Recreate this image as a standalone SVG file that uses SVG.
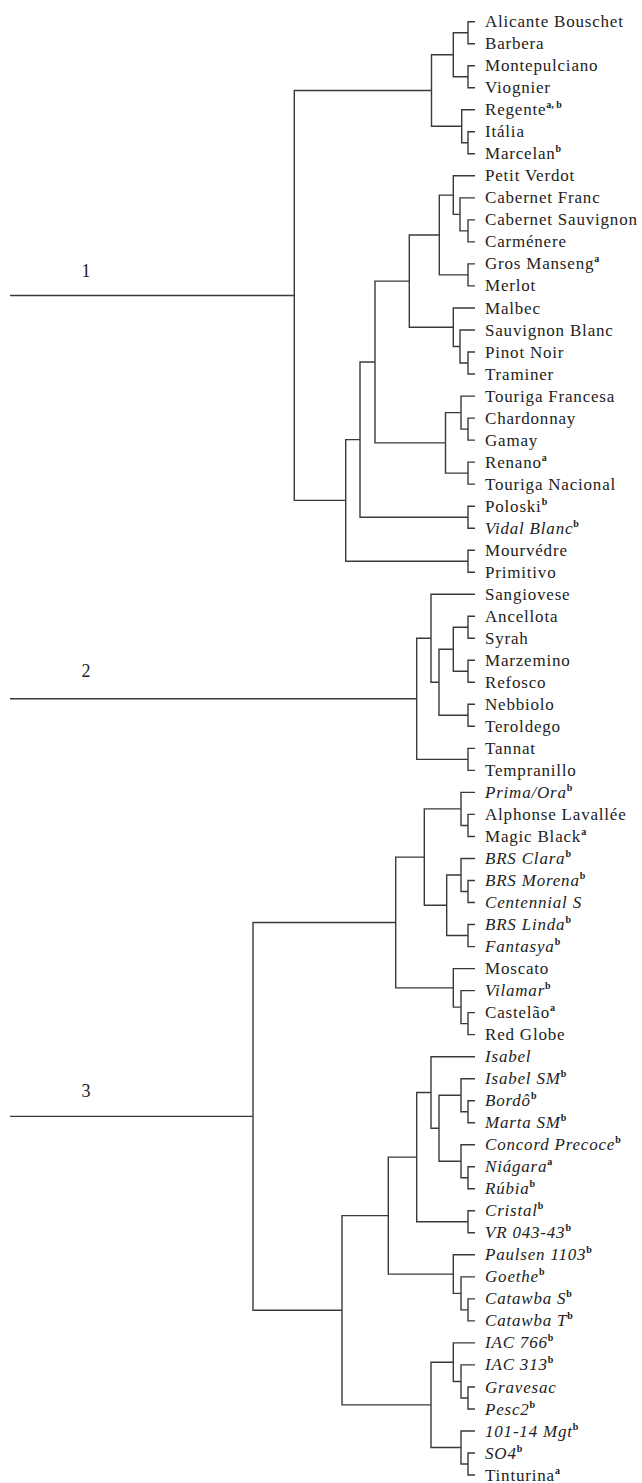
<svg xmlns="http://www.w3.org/2000/svg" width="642" height="1483" viewBox="0 0 642 1483">
<style>
.ln{fill:none;stroke:#3a3a3a;stroke-width:1.4}
.t{font-family:"Liberation Serif","Times New Roman",serif;font-size:17px;letter-spacing:0.8px;fill:#222}
.i{font-style:italic}
.s{font-size:10px;font-style:normal;font-weight:bold;letter-spacing:0}
.n{font-family:"Liberation Serif","Times New Roman",serif;font-size:18px;fill:#222;text-anchor:middle}
</style>
<rect width="642" height="1483" fill="#fff"/>
<g id="connectors" class="ln">
<path d="M475,21.7 H468 V43.7 H475"/>
<path d="M475,65.7 H468 V87.8 H475"/>
<path d="M468,32.7 H453.3 V76.75 H468"/>
<path d="M475,131.8 H468 V153.8 H475"/>
<path d="M475,109.8 H461.7 V142.8 H468"/>
<path d="M453.3,54.7 H431.5 V126.3 H461.7"/>
<path d="M475,219.9 H468 V241.9 H475"/>
<path d="M475,197.9 H460 V230.9 H468"/>
<path d="M475,175.8 H453.3 V214.4 H460"/>
<path d="M475,263.9 H468 V285.9 H475"/>
<path d="M453.3,195.1 H439.3 V274.9 H468"/>
<path d="M475,352 H468 V374 H475"/>
<path d="M475,330 H460 V363 H468"/>
<path d="M475,308 H453.3 V346.5 H460"/>
<path d="M439.3,235 H409.3 V327.25 H453.3"/>
<path d="M475,418.1 H468 V440.1 H475"/>
<path d="M475,396.1 H461 V429.1 H468"/>
<path d="M475,462.1 H468 V484.1 H475"/>
<path d="M461,412.6 H445.5 V473.1 H468"/>
<path d="M409.3,281.1 H375 V442.85 H445.5"/>
<path d="M475,506.2 H468 V528.2 H475"/>
<path d="M375,362 H360 V517.2 H468"/>
<path d="M475,550.2 H468 V572.2 H475"/>
<path d="M360,439.6 H345.7 V561.2 H468"/>
<path d="M431.5,90.5 H294.3 V500.4 H345.7"/>
<path d="M10,295.45 H294.3"/>
<path d="M475,616.2 H468 V638.3 H475"/>
<path d="M475,660.3 H468 V682.3 H475"/>
<path d="M468,627.25 H453.3 V671.3 H468"/>
<path d="M475,704.3 H468 V726.3 H475"/>
<path d="M453.3,649.3 H439 V715.3 H468"/>
<path d="M475,594.2 H431 V682.3 H439"/>
<path d="M475,748.4 H468 V770.4 H475"/>
<path d="M431,638.25 H416.7 V759.4 H468"/>
<path d="M10,698.8 H416.7"/>
<path d="M475,814.4 H468 V836.5 H475"/>
<path d="M475,792.4 H461 V825.45 H468"/>
<path d="M475,880.5 H468 V902.5 H475"/>
<path d="M475,858.5 H461 V891.5 H468"/>
<path d="M475,924.5 H468 V946.6 H475"/>
<path d="M461,875 H446.7 V935.55 H468"/>
<path d="M461,808.9 H424.3 V905.3 H446.7"/>
<path d="M475,1012.6 H468 V1034.6 H475"/>
<path d="M475,990.6 H461 V1023.6 H468"/>
<path d="M475,968.6 H453.3 V1007.1 H461"/>
<path d="M424.3,857.1 H395.7 V987.85 H453.3"/>
<path d="M475,1100.7 H468 V1122.7 H475"/>
<path d="M475,1078.7 H461 V1111.7 H468"/>
<path d="M475,1166.8 H468 V1188.8 H475"/>
<path d="M475,1144.7 H461 V1177.8 H468"/>
<path d="M461,1095.2 H439 V1161.25 H461"/>
<path d="M475,1056.7 H431 V1128.2 H439"/>
<path d="M475,1210.8 H468 V1232.8 H475"/>
<path d="M431,1092.45 H416.7 V1221.8 H468"/>
<path d="M475,1298.9 H468 V1320.9 H475"/>
<path d="M475,1276.9 H461 V1309.9 H468"/>
<path d="M475,1254.8 H453.3 V1293.4 H461"/>
<path d="M416.7,1157.1 H388.3 V1274.1 H453.3"/>
<path d="M475,1387 H468 V1409 H475"/>
<path d="M475,1364.9 H461 V1398 H468"/>
<path d="M475,1342.9 H453.3 V1381.45 H461"/>
<path d="M475,1453 H468 V1475 H475"/>
<path d="M475,1431 H461 V1464 H468"/>
<path d="M453.3,1362.2 H431 V1447.5 H461"/>
<path d="M388.3,1215.6 H342 V1404.85 H431"/>
<path d="M395.7,922.5 H253 V1310.2 H342"/>
<path d="M10,1116.35 H253"/>
</g>
<g id="cluster-labels">
<text class="n" x="86" y="277">1</text>
<text class="n" x="86" y="677">2</text>
<text class="n" x="86" y="1097">3</text>
</g>
<g id="leaf-01"><text class="t" x="485" y="27.2">Alicante Bouschet</text></g>
<g id="leaf-02"><text class="t" x="485" y="49.2">Barbera</text></g>
<g id="leaf-03"><text class="t" x="485" y="71.2">Montepulciano</text></g>
<g id="leaf-04"><text class="t" x="485" y="93.3">Viognier</text></g>
<g id="leaf-05"><text class="t" x="485" y="115.3">Regente<tspan class="s" dy="-7">a, b</tspan></text></g>
<g id="leaf-06"><text class="t" x="485" y="137.3">Itália</text></g>
<g id="leaf-07"><text class="t" x="485" y="159.3">Marcelan<tspan class="s" dy="-7">b</tspan></text></g>
<g id="leaf-08"><text class="t" x="485" y="181.3">Petit Verdot</text></g>
<g id="leaf-09"><text class="t" x="485" y="203.4">Cabernet Franc</text></g>
<g id="leaf-10"><text class="t" x="485" y="225.4">Cabernet Sauvignon</text></g>
<g id="leaf-11"><text class="t" x="485" y="247.4">Carménere</text></g>
<g id="leaf-12"><text class="t" x="485" y="269.4">Gros Manseng<tspan class="s" dy="-7">a</tspan></text></g>
<g id="leaf-13"><text class="t" x="485" y="291.4">Merlot</text></g>
<g id="leaf-14"><text class="t" x="485" y="313.5">Malbec</text></g>
<g id="leaf-15"><text class="t" x="485" y="335.5">Sauvignon Blanc</text></g>
<g id="leaf-16"><text class="t" x="485" y="357.5">Pinot Noir</text></g>
<g id="leaf-17"><text class="t" x="485" y="379.5">Traminer</text></g>
<g id="leaf-18"><text class="t" x="485" y="401.6">Touriga Francesa</text></g>
<g id="leaf-19"><text class="t" x="485" y="423.6">Chardonnay</text></g>
<g id="leaf-20"><text class="t" x="485" y="445.6">Gamay</text></g>
<g id="leaf-21"><text class="t" x="485" y="467.6">Renano<tspan class="s" dy="-7">a</tspan></text></g>
<g id="leaf-22"><text class="t" x="485" y="489.6">Touriga Nacional</text></g>
<g id="leaf-23"><text class="t" x="485" y="511.7">Poloski<tspan class="s" dy="-7">b</tspan></text></g>
<g id="leaf-24"><text class="t i" x="485" y="533.7">Vidal Blanc<tspan class="s" dy="-7">b</tspan></text></g>
<g id="leaf-25"><text class="t" x="485" y="555.7">Mourvédre</text></g>
<g id="leaf-26"><text class="t" x="485" y="577.7">Primitivo</text></g>
<g id="leaf-27"><text class="t" x="485" y="599.7">Sangiovese</text></g>
<g id="leaf-28"><text class="t" x="485" y="621.7">Ancellota</text></g>
<g id="leaf-29"><text class="t" x="485" y="643.8">Syrah</text></g>
<g id="leaf-30"><text class="t" x="485" y="665.8">Marzemino</text></g>
<g id="leaf-31"><text class="t" x="485" y="687.8">Refosco</text></g>
<g id="leaf-32"><text class="t" x="485" y="709.8">Nebbiolo</text></g>
<g id="leaf-33"><text class="t" x="485" y="731.8">Teroldego</text></g>
<g id="leaf-34"><text class="t" x="485" y="753.9">Tannat</text></g>
<g id="leaf-35"><text class="t" x="485" y="775.9">Tempranillo</text></g>
<g id="leaf-36"><text class="t i" x="485" y="797.9">Prima/Ora<tspan class="s" dy="-7">b</tspan></text></g>
<g id="leaf-37"><text class="t" x="485" y="819.9">Alphonse Lavallée</text></g>
<g id="leaf-38"><text class="t" x="485" y="842">Magic Black<tspan class="s" dy="-7">a</tspan></text></g>
<g id="leaf-39"><text class="t i" x="485" y="864">BRS Clara<tspan class="s" dy="-7">b</tspan></text></g>
<g id="leaf-40"><text class="t i" x="485" y="886">BRS Morena<tspan class="s" dy="-7">b</tspan></text></g>
<g id="leaf-41"><text class="t i" x="485" y="908">Centennial S</text></g>
<g id="leaf-42"><text class="t i" x="485" y="930">BRS Linda<tspan class="s" dy="-7">b</tspan></text></g>
<g id="leaf-43"><text class="t i" x="485" y="952.1">Fantasya<tspan class="s" dy="-7">b</tspan></text></g>
<g id="leaf-44"><text class="t" x="485" y="974.1">Moscato</text></g>
<g id="leaf-45"><text class="t i" x="485" y="996.1">Vilamar<tspan class="s" dy="-7">b</tspan></text></g>
<g id="leaf-46"><text class="t" x="485" y="1018.1">Castelão<tspan class="s" dy="-7">a</tspan></text></g>
<g id="leaf-47"><text class="t" x="485" y="1040.1">Red Globe</text></g>
<g id="leaf-48"><text class="t i" x="485" y="1062.2">Isabel</text></g>
<g id="leaf-49"><text class="t i" x="485" y="1084.2">Isabel SM<tspan class="s" dy="-7">b</tspan></text></g>
<g id="leaf-50"><text class="t i" x="485" y="1106.2">Bordô<tspan class="s" dy="-7">b</tspan></text></g>
<g id="leaf-51"><text class="t i" x="485" y="1128.2">Marta SM<tspan class="s" dy="-7">b</tspan></text></g>
<g id="leaf-52"><text class="t i" x="485" y="1150.2">Concord Precoce<tspan class="s" dy="-7">b</tspan></text></g>
<g id="leaf-53"><text class="t i" x="485" y="1172.3">Niágara<tspan class="s" dy="-7">a</tspan></text></g>
<g id="leaf-54"><text class="t i" x="485" y="1194.3">Rúbia<tspan class="s" dy="-7">b</tspan></text></g>
<g id="leaf-55"><text class="t i" x="485" y="1216.3">Cristal<tspan class="s" dy="-7">b</tspan></text></g>
<g id="leaf-56"><text class="t i" x="485" y="1238.3">VR 043-43<tspan class="s" dy="-7">b</tspan></text></g>
<g id="leaf-57"><text class="t i" x="485" y="1260.3">Paulsen 1103<tspan class="s" dy="-7">b</tspan></text></g>
<g id="leaf-58"><text class="t i" x="485" y="1282.4">Goethe<tspan class="s" dy="-7">b</tspan></text></g>
<g id="leaf-59"><text class="t i" x="485" y="1304.4">Catawba S<tspan class="s" dy="-7">b</tspan></text></g>
<g id="leaf-60"><text class="t i" x="485" y="1326.4">Catawba T<tspan class="s" dy="-7">b</tspan></text></g>
<g id="leaf-61"><text class="t i" x="485" y="1348.4">IAC 766<tspan class="s" dy="-7">b</tspan></text></g>
<g id="leaf-62"><text class="t i" x="485" y="1370.4">IAC 313<tspan class="s" dy="-7">b</tspan></text></g>
<g id="leaf-63"><text class="t i" x="485" y="1392.5">Gravesac</text></g>
<g id="leaf-64"><text class="t i" x="485" y="1414.5">Pesc2<tspan class="s" dy="-7">b</tspan></text></g>
<g id="leaf-65"><text class="t i" x="485" y="1436.5">101-14 Mgt<tspan class="s" dy="-7">b</tspan></text></g>
<g id="leaf-66"><text class="t i" x="485" y="1458.5">SO4<tspan class="s" dy="-7">b</tspan></text></g>
<g id="leaf-67"><text class="t" x="485" y="1480.5">Tinturina<tspan class="s" dy="-7">a</tspan></text></g>
</svg>
